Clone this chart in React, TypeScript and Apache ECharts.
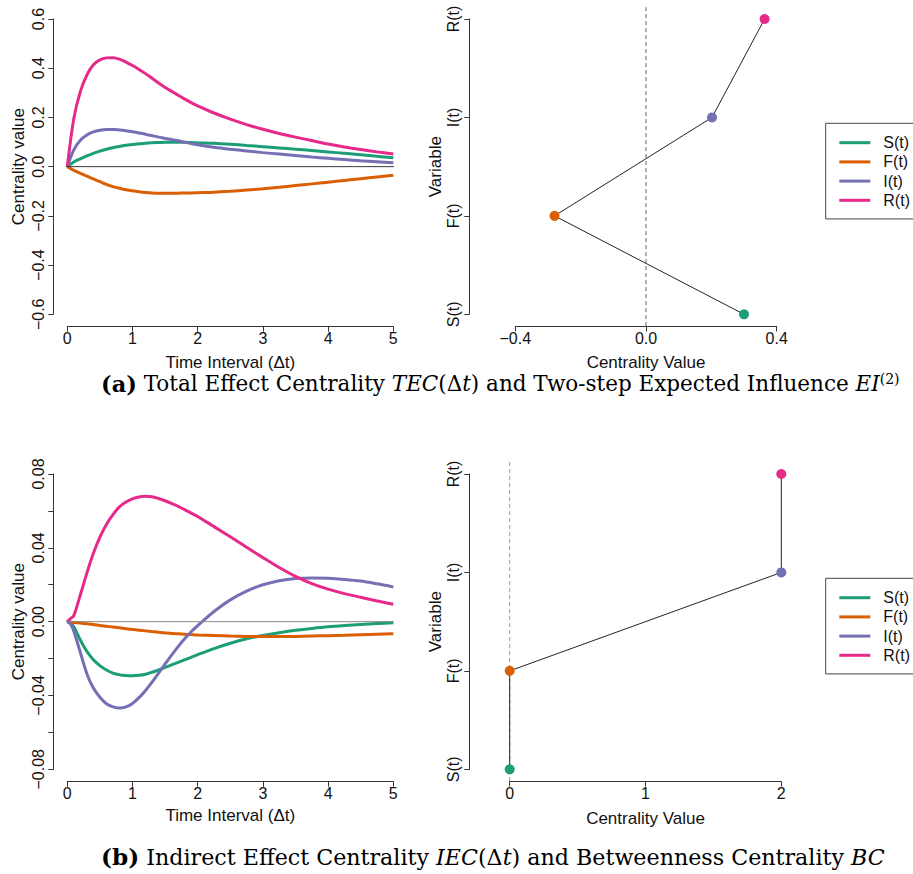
import React, { useEffect, useRef } from 'react';
import * as echarts from 'echarts';

// ---------- data ----------
const VARS = ['S(t)', 'F(t)', 'I(t)', 'R(t)'];
const COLORS = ['#1B9E77', '#D95F02', '#7570B3', '#E7298A'];

// (a) Total effect centrality over time interval
const T_A = [0, 0.1, 0.2, 0.3, 0.4, 0.5, 0.6, 0.7, 0.8, 0.9, 1, 1.1, 1.2, 1.3, 1.4, 1.5, 1.6, 1.7, 1.8, 1.9, 2,
  2.25, 2.5, 2.75, 3, 3.25, 3.5, 3.75, 4, 4.25, 4.5, 4.75, 5];
const S_A = [0, 0.019, 0.032, 0.044, 0.054, 0.063, 0.071, 0.077, 0.082, 0.087, 0.09, 0.093, 0.095, 0.097, 0.098, 0.099, 0.099, 0.099, 0.099, 0.098, 0.097,
  0.095, 0.091, 0.086, 0.081, 0.076, 0.071, 0.066, 0.06, 0.054, 0.048, 0.042, 0.036];
const F_A = [0, -0.015, -0.027, -0.039, -0.05, -0.061, -0.072, -0.081, -0.088, -0.094, -0.098, -0.102, -0.105, -0.107, -0.108, -0.108, -0.108, -0.108, -0.107, -0.107, -0.106,
  -0.104, -0.1, -0.095, -0.09, -0.084, -0.077, -0.07, -0.063, -0.056, -0.049, -0.042, -0.035];
const I_A = [0, 0.068, 0.107, 0.129, 0.141, 0.148, 0.151, 0.151, 0.149, 0.146, 0.142, 0.137, 0.132, 0.126, 0.12, 0.115, 0.11, 0.105, 0.099, 0.094, 0.089,
  0.079, 0.071, 0.064, 0.057, 0.051, 0.045, 0.039, 0.034, 0.029, 0.024, 0.02, 0.016];
const R_A = [0, 0.196, 0.305, 0.372, 0.414, 0.434, 0.442, 0.443, 0.437, 0.425, 0.411, 0.395, 0.378, 0.359, 0.34, 0.322, 0.306, 0.29, 0.275, 0.26, 0.247,
  0.218, 0.193, 0.171, 0.152, 0.135, 0.12, 0.106, 0.092, 0.08, 0.07, 0.06, 0.051];

// (a) Two-step expected influence
const EI2 = [0.3, -0.28, 0.202, 0.363];

// (b) Indirect effect centrality over time interval
const T_B = [0, 0.05, 0.1, 0.2, 0.3, 0.4, 0.5, 0.6, 0.7, 0.8, 0.9, 1, 1.1, 1.2, 1.3, 1.4, 1.5, 1.6, 1.7, 1.8, 1.9, 2,
  2.25, 2.5, 2.75, 3, 3.25, 3.5, 3.75, 4, 4.25, 4.5, 4.75, 5];
const S_B = [0, -0.0008, -0.0028, -0.0099, -0.0161, -0.0206, -0.0238, -0.0262, -0.0279, -0.0288, -0.0292, -0.0293, -0.0291, -0.0285, -0.0274, -0.0262, -0.0248, -0.0234, -0.0221, -0.0207, -0.0193, -0.0179,
  -0.0146, -0.0117, -0.0093, -0.0075, -0.006, -0.0047, -0.0037, -0.0028, -0.0021, -0.0015, -0.001, -0.0006];
const F_B = [0, -0.0002, -0.0004, -0.0008, -0.0012, -0.0016, -0.0021, -0.0025, -0.0029, -0.0033, -0.0038, -0.0042, -0.0046, -0.005, -0.0054, -0.0058, -0.0061, -0.0064, -0.0066, -0.0068, -0.007, -0.0072,
  -0.0075, -0.0078, -0.008, -0.0081, -0.0081, -0.008, -0.0078, -0.0076, -0.0074, -0.0071, -0.0068, -0.0066];
const I_B = [0, -0.0013, -0.0052, -0.0167, -0.0282, -0.036, -0.041, -0.0445, -0.0462, -0.0468, -0.0462, -0.0443, -0.0412, -0.0373, -0.0328, -0.0279, -0.0229, -0.0181, -0.0135, -0.0093, -0.0055, -0.0022,
  0.0055, 0.0118, 0.0165, 0.02, 0.0222, 0.0234, 0.0237, 0.0235, 0.0229, 0.022, 0.0205, 0.0188];
const R_B = [0, 0.0017, 0.0033, 0.0145, 0.0263, 0.037, 0.0458, 0.0527, 0.058, 0.0622, 0.0648, 0.0665, 0.0675, 0.0679, 0.0677, 0.0667, 0.0655, 0.064, 0.0625, 0.0607, 0.0588, 0.057,
  0.0515, 0.046, 0.0403, 0.0347, 0.0293, 0.0245, 0.0206, 0.0176, 0.0152, 0.0132, 0.0112, 0.0094];

// (b) Betweenness centrality
const BC = [0, 0, 2, 2];

// reference lines
const ZERO_SPAN = [-0.25, 5.2];
const VAR_SPAN = [0.88, 4.12];

// ---------- styling ----------
const FONT = '"Liberation Sans", Arial, Helvetica, sans-serif';
const SERIF = '"DejaVu Serif", "Liberation Serif", serif';
const TXT = '#111';
const AX = '#333';

const minus = (s: string) => s.replace('-', '\u2212');

function baseAxis(extra: any) {
  return {
    type: 'value',
    axisLine: { show: true, onZero: false, lineStyle: { color: AX, width: 1 } },
    axisTick: { show: true, length: 5, inside: false, lineStyle: { color: AX, width: 1 } },
    splitLine: { show: false },
    nameLocation: 'middle',
    nameTextStyle: { fontFamily: FONT, fontSize: 17, color: TXT },
    ...extra,
    axisLabel: { fontFamily: FONT, fontSize: 16, color: TXT, ...(extra.axisLabel || {}) },
  };
}

function curveSeries(times: number[], vals: number[][], axisIdx: number) {
  return vals.map((arr, k) => ({
    type: 'line',
    name: VARS[k],
    xAxisIndex: axisIdx,
    yAxisIndex: axisIdx,
    data: times.map((t, i) => [t, arr[i]]),
    smooth: 0.3,
    showSymbol: false,
    symbol: 'none',
    color: COLORS[k],
    lineStyle: { width: 3, color: COLORS[k] },
    z: 2,
  }));
}

function dotSeries(vals: number[], axisIdx: number, dashColor: string) {
  return [
    {
      type: 'line',
      name: '__dash' + axisIdx,
      xAxisIndex: axisIdx,
      yAxisIndex: axisIdx,
      data: [[0, VAR_SPAN[0]], [0, VAR_SPAN[1]]],
      clip: false,
      symbol: 'none',
      silent: true,
      lineStyle: { color: dashColor, width: 1, type: [4, 3] },
      z: 1,
    },
    {
      type: 'line',
      name: '__conn' + axisIdx,
      xAxisIndex: axisIdx,
      yAxisIndex: axisIdx,
      data: vals.map((v, i) => [v, i + 1]),
      symbol: 'none',
      silent: true,
      clip: false,
      lineStyle: { color: '#222', width: 1 },
      z: 2,
    },
    {
      type: 'scatter',
      name: '__pts' + axisIdx,
      xAxisIndex: axisIdx,
      yAxisIndex: axisIdx,
      symbolSize: 10,
      clip: false,
      data: vals.map((v, i) => ({ value: [v, i + 1], itemStyle: { color: COLORS[i], opacity: 1 } })),
      z: 3,
    },
  ];
}

function zeroLine(axisIdx: number, color: string) {
  return {
    type: 'line',
    name: '__zero' + axisIdx,
    xAxisIndex: axisIdx,
    yAxisIndex: axisIdx,
    data: [[ZERO_SPAN[0], 0], [ZERO_SPAN[1], 0]],
    clip: false,
    symbol: 'none',
    silent: true,
    lineStyle: { color, width: 1 },
    z: 4,
  };
}

function legendAt(top: number) {
  return {
    orient: 'vertical',
    left: 825.7,
    top,
    data: VARS,
    icon: 'rect',
    itemWidth: 31,
    itemHeight: 3,
    itemGap: 3.2,
    padding: [11.4, 24, 10.6, 13.6],
    borderColor: '#444',
    borderWidth: 1,
    selectedMode: false,
    formatter: (name: string) => '{n|' + name + '}',
    textStyle: {
      fontFamily: FONT, fontSize: 16, color: TXT,
      rich: { n: { fontFamily: FONT, fontSize: 16, color: TXT, padding: [0, 0, 0, 8] } },
    },
  };
}

const varFmt = (v: number) => VARS[Math.round(v) - 1] || '';

function captionRich(size: number) {
  return {
    b: { fontFamily: SERIF, fontSize: size + 1, fontWeight: 'bold', fill: '#000' },
    r: { fontFamily: SERIF, fontSize: size, fill: '#000' },
    i: { fontFamily: SERIF, fontSize: size, fontStyle: 'italic', fill: '#000' },
    s: { fontFamily: SERIF, fontSize: Math.round(size * 0.66), fill: '#000', verticalAlign: 'top' },
  };
}

const option: any = {
  animation: false,
  backgroundColor: '#fff',
  grid: [
    { left: 67.3, top: 19, width: 326, height: 295.3 },
    { left: 515.3, top: 19, width: 261.4, height: 295.3 },
    { left: 67.3, top: 474, width: 326, height: 295.3 },
    { left: 509.7, top: 474, width: 271.6, height: 295.3 },
  ],
  xAxis: [
    baseAxis({ gridIndex: 0, min: 0, max: 5, interval: 1, offset: 12.4, name: 'Time Interval (\u0394t)', nameGap: 27, axisLabel: { margin: 4 } }),
    baseAxis({ gridIndex: 1, min: -0.4, max: 0.4, interval: 0.4, offset: 12.2, name: 'Centrality Value', nameGap: 27,
      axisLabel: { margin: 4, formatter: (v: number) => (Math.abs(v) < 1e-9 ? '0.0' : minus(v.toFixed(1))) } }),
    baseAxis({ gridIndex: 2, min: 0, max: 5, interval: 1, offset: 12.4, name: 'Time Interval (\u0394t)', nameGap: 24.8, axisLabel: { margin: 4 } }),
    baseAxis({ gridIndex: 3, min: 0, max: 2, interval: 1, offset: 12.2, name: 'Centrality Value', nameGap: 28.3, axisLabel: { margin: 4 } }),
  ],
  yAxis: [
    baseAxis({ gridIndex: 0, min: -0.6, max: 0.6, interval: 0.2, offset: 14, name: 'Centrality value', nameGap: 26.5,
      axisLabel: { rotate: 90, margin: 7, formatter: (v: number) => (Math.abs(v) < 1e-9 ? '0.0' : minus(v.toFixed(1))) } }),
    baseAxis({ gridIndex: 1, min: 1, max: 4, interval: 1, offset: 46, name: 'Variable', nameGap: 22.5,
      axisLabel: { rotate: 90, margin: 8, formatter: varFmt } }),
    baseAxis({ gridIndex: 2, min: -0.08, max: 0.08, interval: 0.02, offset: 14, name: 'Centrality value', nameGap: 26.5,
      axisLabel: { rotate: 90, margin: 7, formatter: (v: number) => {
        const k = Math.round(v * 100);
        if (k % 4 !== 0) return '';
        return k === 0 ? '0.00' : minus(v.toFixed(2));
      } } }),
    baseAxis({ gridIndex: 3, min: 1, max: 4, interval: 1, offset: 40.4, name: 'Variable', nameGap: 22.5,
      axisLabel: { rotate: 90, margin: 8, formatter: varFmt } }),
  ],
  legend: [legendAt(123.3), legendAt(578.3)],
  series: [
    ...curveSeries(T_A, [S_A, F_A, I_A, R_A], 0),
    zeroLine(0, '#3a3a3a'),
    ...dotSeries(EI2, 1, '#666'),
    ...curveSeries(T_B, [S_B, F_B, I_B, R_B], 2),
    zeroLine(2, '#8a8a8a'),
    ...dotSeries(BC, 3, '#999'),
  ],
  graphic: [
    {
      type: 'text',
      left: 101,
      top: 372,
      style: {
        text: '{b|(a)}{r| Total Effect Centrality }{i|TEC}{r|(\u0394}{i|t}{r|) and Two-step Expected Influence }{i|EI}{s|(2)}',
        rich: captionRich(21.5),
      },
    },
    {
      type: 'text',
      left: 101,
      top: 845,
      style: {
        text: '{b|(b)}{r| Indirect Effect Centrality }{i|IEC}{r|(\u0394}{i|t}{r|) and Betweenness Centrality }{i|BC}',
        rich: captionRich(22.2),
      },
    },
  ],
};

export default function App() {
  const ref = useRef<HTMLDivElement>(null);
  useEffect(() => {
    if (!ref.current) return;
    const chart = echarts.init(ref.current, null, { renderer: 'svg' });
    chart.setOption(option);
    return () => chart.dispose();
  }, []);
  return (
    <div style={{ position: 'absolute', left: 0, top: 0, width: 913, height: 874, background: '#fff', overflow: 'hidden' }}>
      <div ref={ref} style={{ width: 913, height: 874 }} />
    </div>
  );
}
